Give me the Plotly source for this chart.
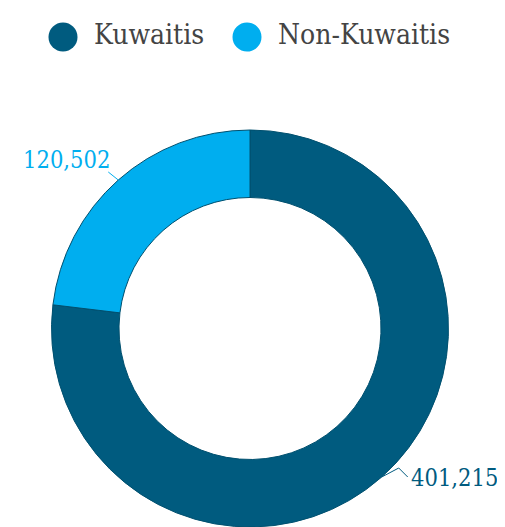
import math
import plotly.graph_objects as go

labels = ["Kuwaitis", "Non-Kuwaitis"]
values = [401215, 120502]
colors = ["#005b7f", "#00aeef"]

W, H = 505, 527
OFF = 8  # page offset of the figure (body margin)
SERIF = "DejaVu Serif Condensed, DejaVu Serif"

# ring geometry in page pixels
cx, cy, R = 250, 328.5, 198.5
fx, fy = cx - OFF, cy - OFF  # same point in figure pixels
dom_x = [0, 2 * fx / W]
dom_y = [(H - fy - R) / H, (H - fy + R) / H]

fig = go.Figure()

# empty trace so the pixel-space helper axes exist
fig.add_trace(go.Scatter(x=[], y=[], showlegend=False, hoverinfo="skip"))

fig.add_trace(go.Pie(
    labels=labels,
    values=values,
    hole=0.66,
    sort=False,
    direction="clockwise",
    rotation=0,
    marker=dict(colors=colors, line=dict(color="#00506f", width=1)),
    textinfo="none",
    hoverinfo="label+value",
    showlegend=False,
    domain=dict(x=dom_x, y=dom_y),
))

shapes = []
annotations = []

# outside value labels with leader lines
total = sum(values)
cum = 0
for val, col in zip(values, colors):
    mid = (cum + val / 2) / total * 2 * math.pi
    cum += val
    s, c = math.sin(mid), math.cos(mid)
    px, py = cx + R * s, cy - R * c
    if s > 0:
        path = f"M{px},{py} L{px + 17},{py - 9} L{px + 26},{py}"
        tx, ty, xa, ya = px + 27, py + 1, "left", "middle"
    else:
        path = f"M{px},{py} L{px - 10},{py - 8}"
        tx, ty, xa, ya = px - 6, py - 4, "right", "bottom"
    shapes.append(dict(type="path", path=path, xref="x", yref="y",
                       line=dict(color=col, width=1)))
    annotations.append(dict(x=tx, y=ty, xref="x", yref="y", text=f"{val:,}",
                            showarrow=False, xanchor=xa, yanchor=ya,
                            font=dict(family=SERIF, size=23.5, color=col)))

# custom legend with large round dots
legend_x = [63, 247]
legend_y = 37
dot_r = 14.5
for lx, lab, col in zip(legend_x, labels, colors):
    shapes.append(dict(type="circle", xref="x", yref="y",
                       x0=lx - dot_r, x1=lx + dot_r,
                       y0=legend_y - dot_r, y1=legend_y + dot_r,
                       fillcolor=col, line=dict(width=0)))
    annotations.append(dict(x=lx + 29, y=legend_y - 3, xref="x", yref="y",
                            text=lab, showarrow=False, xanchor="left",
                            yanchor="middle",
                            font=dict(family=SERIF, size=28, color="#444444")))

fig.update_layout(
    width=W,
    height=H,
    margin=dict(l=0, r=0, t=0, b=0),
    paper_bgcolor="white",
    plot_bgcolor="rgba(0,0,0,0)",
    font=dict(family=SERIF),
    xaxis=dict(range=[OFF, W + OFF], visible=False, fixedrange=True),
    yaxis=dict(range=[H + OFF, OFF], visible=False, fixedrange=True),
    shapes=shapes,
    annotations=annotations,
    showlegend=False,
)

fig.write_html("out.html")
